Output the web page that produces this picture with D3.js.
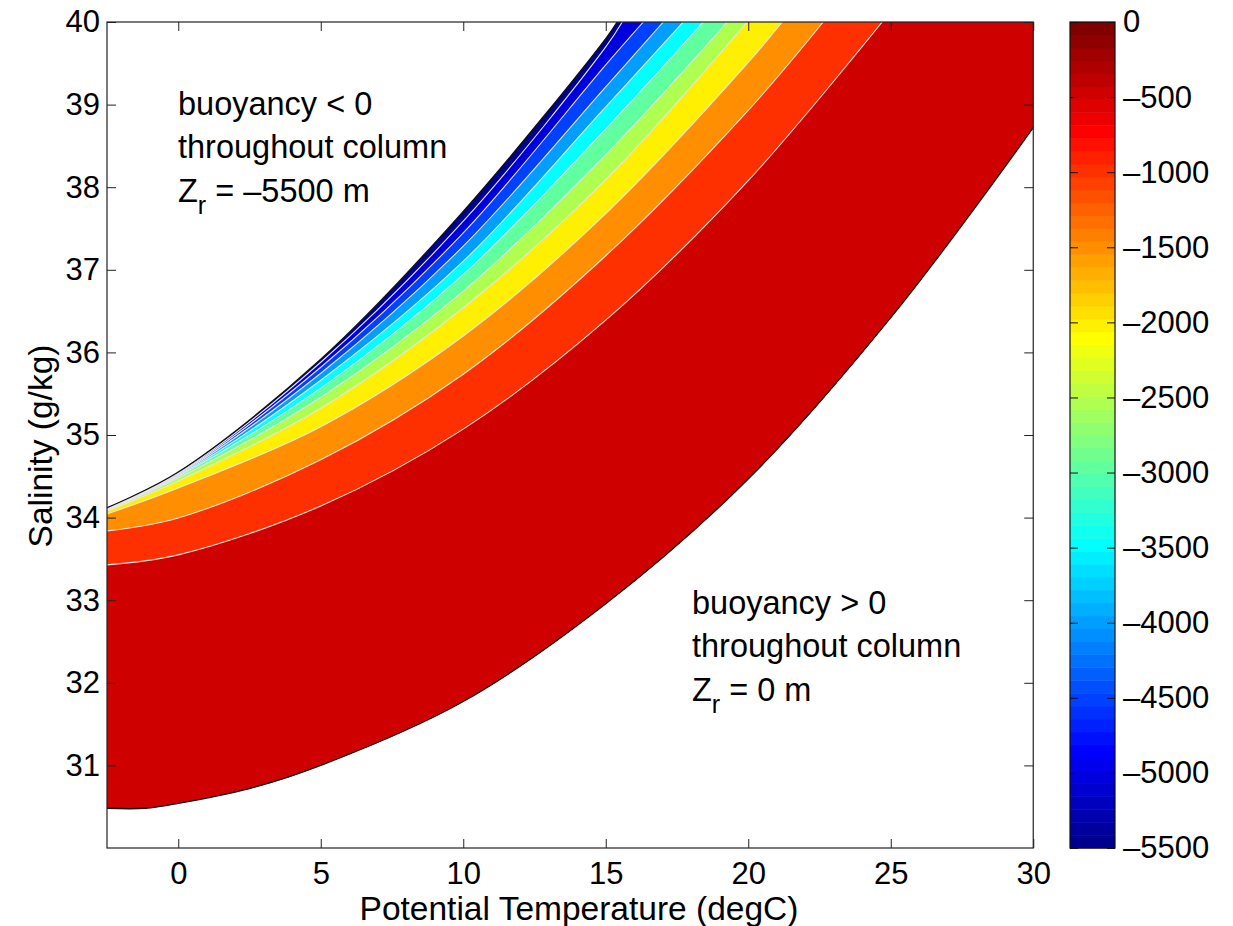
<!DOCTYPE html>
<html>
<head>
<meta charset="utf-8">
<script src="https://cdn.jsdelivr.net/npm/d3@7"></script>
<style>
  html, body { margin: 0; padding: 0; background: #fff; }
  text { font-family: "Liberation Sans", Arial, Helvetica, sans-serif; fill: #000; }
</style>
</head>
<body>
<svg id="chart" width="1233" height="926"></svg>
<script>
// ---------------- data (T in degC, S in g/kg) ----------------
const xTicks = [0, 5, 10, 15, 20, 25, 30];
const yTicks = [31, 32, 33, 34, 35, 36, 37, 38, 39, 40];
const cbTicks = [0, -500, -1000, -1500, -2000, -2500, -3000, -3500, -4000, -4500, -5000, -5500];
const contourLevels = [-5500, -5000, -4500, -4000, -3500, -3000, -2500, -2000, -1500, -1000, -500];

// upper-left boundary of the filled region (Zr = -5500 side)
const edgeUpper = [[-2.5, 34.12], [0, 34.552], [5, 35.917], [10, 37.708], [15, 39.80], [15.4, 40]];
// contour lines
const zr5000 = [[-2.5, 34.113], [0, 34.540], [5, 35.881], [10, 37.588], [15, 39.698], [15.58, 40]];
const zr4500 = [[-2.5, 34.108], [0, 34.530], [5, 35.820], [10, 37.447], [15, 39.481], [16.32, 40]];
const zr4000 = [[-2.5, 34.103], [0, 34.520], [5, 35.748], [10, 37.286], [15, 39.215], [17.02, 40]];
const zr3500 = [[-2.5, 34.098], [0, 34.509], [5, 35.663], [10, 37.104], [15, 38.973], [17.72, 40]];
const zr3000 = [[-2.5, 34.093], [0, 34.497], [5, 35.567], [10, 36.944], [15, 38.707], [18.42, 40]];
const zr2500 = [[-2.5, 34.088], [0, 34.479], [5, 35.458], [10, 36.742], [15, 38.393], [19.26, 40]];
const zr2000 = [[-2.5, 34.080], [0, 34.443], [5, 35.325], [10, 36.541], [15, 38.091], [19.96, 40]];
const zr1500 = [[-2.5, 34.044], [0, 34.359], [5, 35.100], [10, 36.198], [15, 37.680], [20, 39.510], [21.19, 40]];
const zr1000 = [[-2.5, 33.839], [0, 33.996], [5, 34.700], [10, 35.736], [15, 37.170], [20, 38.930], [22.63, 40]];
const zr500  = [[-2.5, 33.428], [0, 33.549], [5, 34.140], [10, 35.071], [15, 36.390], [20, 38.080], [24.70, 40]];
// lower-right boundary (Zr = 0 side)
const edgeLower = [[-2.5, 30.481], [-1.16, 30.481], [0, 30.541], [2.5, 30.72], [5, 31.0], [10, 31.773],
                   [15, 32.957], [20, 34.467], [25, 36.42], [30, 38.72]];

const bandCurves = [edgeUpper, zr5000, zr4500, zr4000, zr3500, zr3000, zr2500, zr2000, zr1500, zr1000, zr500];
const contourCurves = [zr5000, zr4500, zr4000, zr3500, zr3000, zr2500, zr2000, zr1500, zr1000, zr500];

// ---------------- jet(64) colormap ----------------
function jet(m) {
  const n = Math.ceil(m / 4);
  const u = [];
  for (let i = 1; i <= n; i++) u.push(i / n);
  for (let i = 1; i <= n - 1; i++) u.push(1);
  for (let i = n; i >= 1; i--) u.push(i / n);
  const g0 = Math.ceil(n / 2) - (m % 4 === 1 ? 1 : 0);
  const J = d3.range(m).map(() => [0, 0, 0]);
  u.forEach((v, k) => {
    const g = g0 + k + 1, r = g + n, b = g - n;
    if (r >= 1 && r <= m) J[r - 1][0] = v;
    if (g >= 1 && g <= m) J[g - 1][1] = v;
    if (b >= 1 && b <= m) J[b - 1][2] = v;
  });
  return J.map(c => d3.rgb(c[0] * 255, c[1] * 255, c[2] * 255).formatHex());
}
const jetColors = jet(64);
const color = d3.scaleQuantize().domain([-5500, 0]).range(jetColors);

// ---------------- layout ----------------
const svg = d3.select("#chart");
const x = d3.scaleLinear().domain([-2.5, 30]).range([107, 1033.25]);
const y = d3.scaleLinear().domain([30, 40]).range([848, 22]);
const FS = 31;

const line = d3.line().x(d => x(d[0])).y(d => y(d[1])).curve(d3.curveCatmullRom.alpha(0.5));

const defs = svg.append("defs");
defs.append("clipPath").attr("id", "aboveLower")
  .append("path")
  .attr("d", line(edgeLower) + `L${x(30)},${y(40)}L${x(-2.5)},${y(40)}Z`);
defs.append("clipPath").attr("id", "plotArea")
  .append("rect").attr("x", x(-2.5)).attr("y", y(40))
  .attr("width", x(30) - x(-2.5)).attr("height", y(30) - y(40));

const plot = svg.append("g").attr("clip-path", "url(#plotArea)");
const bands = plot.append("g").attr("clip-path", "url(#aboveLower)");

bandCurves.forEach((c, i) => {
  bands.append("path")
    .attr("d", line(c) + `L${x(30) + 2},${y(40)}L${x(30) + 2},${y(30)}L${x(-2.5) - 2},${y(30)}L${x(-2.5) - 2},${y(c[0][1])}Z`)
    .attr("fill", color(contourLevels[i]))
    .attr("stroke", "none");
});

// white contour lines
contourCurves.forEach(c => {
  bands.append("path").attr("d", line(c))
    .attr("fill", "none").attr("stroke", "#e6e6e6").attr("stroke-width", 1.1);
});

// dark outline of the filled region
plot.append("path").attr("d", line(edgeUpper))
  .attr("fill", "none").attr("stroke", "#111").attr("stroke-width", 1.3);
plot.append("path").attr("d", line(edgeLower))
  .attr("fill", "none").attr("stroke", "#111").attr("stroke-width", 1.3);

// ---------------- axes ----------------
const axG = svg.append("g");
const fmt = d => String(d).replace("-", "\u2013");

axG.append("g").attr("transform", `translate(0,${y(30)})`)
  .call(d3.axisBottom(x).tickValues(xTicks).tickSizeInner(-9).tickSizeOuter(0).tickPadding(14))
  .call(g => g.select(".domain").remove());
axG.append("g").attr("transform", `translate(0,${y(40)})`)
  .call(d3.axisTop(x).tickValues(xTicks).tickSizeInner(-9).tickSizeOuter(0).tickFormat(""))
  .call(g => g.select(".domain").remove());
axG.append("g").attr("transform", `translate(${x(-2.5)},0)`)
  .call(d3.axisLeft(y).tickValues(yTicks).tickSizeInner(-9).tickSizeOuter(0).tickPadding(7))
  .call(g => g.select(".domain").remove());
axG.append("g").attr("transform", `translate(${x(30)},0)`)
  .call(d3.axisRight(y).tickValues(yTicks).tickSizeInner(-9).tickSizeOuter(0).tickFormat(""))
  .call(g => g.select(".domain").remove());

axG.selectAll(".tick line").attr("stroke", "#222");
axG.selectAll(".tick text").attr("font-size", FS).style("font-family", "'Liberation Sans', Arial, sans-serif");

axG.append("rect")
  .attr("x", x(-2.5)).attr("y", y(40))
  .attr("width", x(30) - x(-2.5)).attr("height", y(30) - y(40))
  .attr("fill", "none").attr("stroke", "#222").attr("stroke-width", 1.2);

svg.append("text").attr("x", 579).attr("y", 920)
  .attr("text-anchor", "middle").attr("font-size", 33.5)
  .text("Potential Temperature (degC)");
svg.append("text").attr("transform", `translate(52,446) rotate(-90)`)
  .attr("text-anchor", "middle").attr("font-size", 33.5)
  .text("Salinity (g/kg)");

// ---------------- colorbar ----------------
const cbX0 = 1070, cbX1 = 1115;
const cy = d3.scaleLinear().domain([-5500, 0]).range([848, 22]);
const cbStep = 5500 / 64;
const cb = svg.append("g");
cb.selectAll("rect.seg").data(jetColors).join("rect").attr("class", "seg")
  .attr("x", cbX0).attr("width", cbX1 - cbX0)
  .attr("y", (d, i) => cy(-5500 + (i + 1) * cbStep))
  .attr("height", (d, i) => cy(-5500 + i * cbStep) - cy(-5500 + (i + 1) * cbStep) + 0.5)
  .attr("fill", d => d);
cb.append("g").attr("transform", `translate(${cbX1},0)`)
  .call(d3.axisRight(cy).tickValues(cbTicks).tickSizeInner(-8).tickSizeOuter(0).tickPadding(8).tickFormat(fmt))
  .call(g => g.select(".domain").remove());
cb.append("g").attr("transform", `translate(${cbX0},0)`)
  .call(d3.axisLeft(cy).tickValues(cbTicks).tickSizeInner(-8).tickSizeOuter(0).tickFormat(""))
  .call(g => g.select(".domain").remove());
cb.selectAll(".tick line").attr("stroke", "#111");
cb.selectAll(".tick text").attr("font-size", FS).style("font-family", "'Liberation Sans', Arial, sans-serif");
cb.append("rect").attr("x", cbX0).attr("y", cy(0)).attr("width", cbX1 - cbX0).attr("height", cy(-5500) - cy(0))
  .attr("fill", "none").attr("stroke", "#111").attr("stroke-width", 1.2);

// ---------------- annotations ----------------
function note(x0, y0, lines2, zr) {
  const g = svg.append("g").attr("font-size", 32.5);
  g.append("text").attr("x", x0).attr("y", y0).text(lines2[0]);
  g.append("text").attr("x", x0).attr("y", y0 + 43).text(lines2[1]);
  const t = g.append("text").attr("x", x0).attr("y", y0 + 87);
  t.append("tspan").text("Z");
  t.append("tspan").attr("dy", 12).attr("font-size", 25).text("r");
  t.append("tspan").attr("dy", -12).text(" = " + zr + " m");
}
note(178, 115, ["buoyancy < 0", "throughout column"], "\u20135500");
note(692, 614, ["buoyancy > 0", "throughout column"], "0");
</script>
</body>
</html>
